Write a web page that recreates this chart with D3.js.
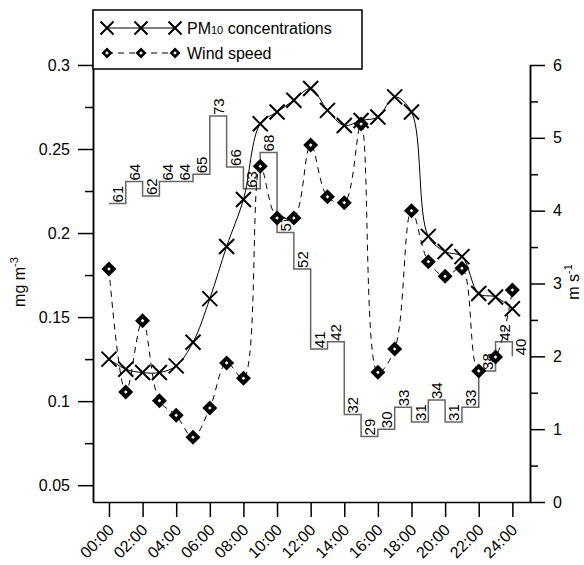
<!DOCTYPE html>
<html lang="en">
<head>
  <title>PM10 and wind speed</title>
  <script type="text/javascript" src="https://cdnjs.cloudflare.com/ajax/libs/d3/7.8.5/d3.min.js"></script>
  <style>
    body { margin: 0; background: #fff; }
    svg { display: block; font-family: Arial, "Liberation Sans", sans-serif; }
  </style>
</head>
<body>
  <script type="text/javascript">
    var width = 584;
    var height = 565;

    // data
    var hours = d3.range(0, 25);
    var pm10 = [0.125, 0.119, 0.117, 0.117, 0.121, 0.135, 0.161, 0.192, 0.220, 0.265,
                0.272, 0.279, 0.286, 0.273, 0.264, 0.267, 0.269, 0.281, 0.272, 0.198,
                0.189, 0.186, 0.164, 0.162, 0.155];
    var wind = [3.20, 1.51, 2.49, 1.39, 1.19, 0.89, 1.29, 1.91, 1.70, 4.61,
                3.90, 3.90, 4.90, 4.19, 4.11, 5.19, 1.78, 2.10, 4.00, 3.30,
                3.10, 3.21, 1.80, 1.99, 2.91];
    var steps = [61, 64, 62, 64, 64, 65, 73, 66, 63, 68, 57, 52, 41, 42, 32, 29, 30,
                 33, 31, 34, 31, 33, 38, 42, 40];

    var leftTicks = [0.05, 0.1, 0.15, 0.2, 0.25, 0.3];
    var leftMinor = [0.075, 0.125, 0.175, 0.225, 0.275];
    var rightTicks = [0, 1, 2, 3, 4, 5, 6];
    var rightMinor = [0.5, 1.5, 2.5, 3.5, 4.5, 5.5];
    var xTicks = [0, 2, 4, 6, 8, 10, 12, 14, 16, 18, 20, 22, 24];
    var xTickLabels = ["00:00", "02:00", "04:00", "06:00", "08:00", "10:00", "12:00",
                       "14:00", "16:00", "18:00", "20:00", "22:00", "24:00"];

    var x = d3.scaleLinear().domain([-0.95, 25.05]).range([93, 530]);
    var yLeft = d3.scaleLinear().domain([0.04, 0.3327]).range([502, 10]);
    var yRight = d3.scaleLinear().domain([0, 6]).range([502, 65]);
    var yStep = d3.scaleLinear().domain([20, 80]).range([502, 65]);

    var svg = d3.select("body").append("svg")
      .attr("width", width)
      .attr("height", height);

    svg.append("rect").attr("width", width).attr("height", height).attr("fill", "#fff");

    function styleAxis(g) {
      g.attr("font-size", 16).attr("font-family", "Arial, 'Liberation Sans', sans-serif");
      g.selectAll("path, line").attr("stroke", "#000").attr("stroke-width", 1.5);
      g.selectAll("text").attr("fill", "#000");
    }

    // left axis
    svg.append("g").attr("transform", "translate(93,0)")
      .call(d3.axisLeft(yLeft).tickValues(leftMinor).tickSize(8).tickSizeOuter(0).tickFormat(""))
      .call(styleAxis);
    svg.append("g").attr("transform", "translate(93,0)")
      .call(d3.axisLeft(yLeft).tickValues(leftTicks).tickSize(15).tickSizeOuter(0)
        .tickPadding(8).tickFormat(function (d) { return String(d); }))
      .call(styleAxis);

    // right axis
    svg.append("g").attr("transform", "translate(530,0)")
      .call(d3.axisRight(yRight).tickValues(rightMinor).tickSize(8).tickSizeOuter(0).tickFormat(""))
      .call(styleAxis);
    svg.append("g").attr("transform", "translate(530,0)")
      .call(d3.axisRight(yRight).tickValues(rightTicks).tickSize(15).tickSizeOuter(0)
        .tickPadding(8).tickFormat(function (d) { return String(d); }))
      .call(styleAxis);

    // bottom axis
    svg.append("g").attr("transform", "translate(0,502)")
      .call(d3.axisBottom(x).tickValues(xTicks).tickSize(15).tickSizeOuter(0).tickFormat(""))
      .call(styleAxis);

    svg.append("g").selectAll("text")
      .data(xTicks)
      .enter().append("text")
      .attr("transform", function (d) { return "translate(" + (x(d) + 6) + ",531) rotate(-45)"; })
      .attr("text-anchor", "end")
      .attr("font-size", 16)
      .text(function (d, i) { return xTickLabels[i]; });

    // axis titles
    var lt = svg.append("text")
      .attr("transform", "translate(25,282) rotate(-90)")
      .attr("text-anchor", "middle")
      .attr("font-size", 16);
    lt.append("tspan").text("mg m");
    lt.append("tspan").attr("font-size", 11).attr("dy", -7).text("-3");

    var rt = svg.append("text")
      .attr("transform", "translate(579,282) rotate(-90)")
      .attr("text-anchor", "middle")
      .attr("font-size", 16);
    rt.append("tspan").text("m s");
    rt.append("tspan").attr("font-size", 11).attr("dy", -7).text("-1");

    // stepped series with labels
    svg.append("path")
      .datum(steps)
      .attr("fill", "none")
      .attr("stroke", "#666")
      .attr("stroke-width", 1.5)
      .attr("d", d3.line()
        .x(function (d, i) { return x(hours[i]); })
        .y(function (d) { return yStep(d); })
        .curve(d3.curveStepAfter));

    svg.append("g").selectAll("text")
      .data(steps)
      .enter().append("text")
      .attr("transform", function (d, i) {
        return "translate(" + (x(hours[i]) + 14) + "," + (yStep(d) - 1) + ") rotate(-90)";
      })
      .attr("font-size", 15)
      .text(function (d) { return d; });

    var curve = d3.curveCatmullRom.alpha(0.5);

    // PM10
    svg.append("path")
      .datum(pm10)
      .attr("fill", "none")
      .attr("stroke", "#000")
      .attr("stroke-width", 1)
      .attr("d", d3.line()
        .x(function (d, i) { return x(hours[i]); })
        .y(function (d) { return yLeft(d); })
        .curve(curve));

    function cross(sel, s) {
      sel.append("path")
        .attr("d", "M" + (-s) + "," + (-s) + "L" + s + "," + s + "M" + (-s) + "," + s + "L" + s + "," + (-s))
        .attr("stroke", "#000")
        .attr("stroke-width", 2)
        .attr("fill", "none");
    }
    function diamond(sel, s) {
      sel.append("path")
        .attr("d", "M0," + (-s) + "L" + s + ",0L0," + s + "L" + (-s) + ",0Z")
        .attr("fill", "#000");
      sel.append("path")
        .attr("d", "M0,-1.8L1.8,0L0,1.8L-1.8,0Z")
        .attr("fill", "#fff");
    }

    svg.append("g").selectAll("g")
      .data(pm10)
      .enter().append("g")
      .attr("transform", function (d, i) { return "translate(" + x(hours[i]) + "," + yLeft(d) + ")"; })
      .call(cross, 7.5);

    // wind speed
    svg.append("path")
      .datum(wind)
      .attr("fill", "none")
      .attr("stroke", "#000")
      .attr("stroke-width", 1)
      .attr("stroke-dasharray", "6,5")
      .attr("d", d3.line()
        .x(function (d, i) { return x(hours[i]); })
        .y(function (d) { return yRight(d); })
        .curve(curve));

    svg.append("g").selectAll("g")
      .data(wind)
      .enter().append("g")
      .attr("transform", function (d, i) { return "translate(" + x(hours[i]) + "," + yRight(d) + ")"; })
      .call(diamond, 7.5);

    // legend
    var lg = svg.append("g");
    lg.append("rect")
      .attr("x", 93).attr("y", 10).attr("width", 269).attr("height", 59)
      .attr("fill", "#fff").attr("stroke", "#000").attr("stroke-width", 1.5);
    var lx = [107, 141, 175];
    lg.append("line").attr("x1", 107).attr("x2", 175).attr("y1", 28).attr("y2", 28)
      .attr("stroke", "#000").attr("stroke-width", 1);
    lg.selectAll("g.lx").data(lx).enter().append("g").attr("class", "lx")
      .attr("transform", function (d) { return "translate(" + d + ",28)"; })
      .call(cross, 6.5);
    lg.append("line").attr("x1", 107).attr("x2", 175).attr("y1", 53).attr("y2", 53)
      .attr("stroke", "#000").attr("stroke-width", 1).attr("stroke-dasharray", "6,5");
    lg.selectAll("g.ld").data(lx).enter().append("g").attr("class", "ld")
      .attr("transform", function (d) { return "translate(" + d + ",53)"; })
      .call(diamond, 5.5);
    var t1 = lg.append("text").attr("x", 187).attr("y", 34).attr("font-size", 16);
    t1.append("tspan").text("PM");
    t1.append("tspan").attr("font-size", 11).text("10");
    t1.append("tspan").text(" concentrations");
    lg.append("text").attr("x", 187).attr("y", 59).attr("font-size", 16).text("Wind speed");
  </script>
</body>
</html>
